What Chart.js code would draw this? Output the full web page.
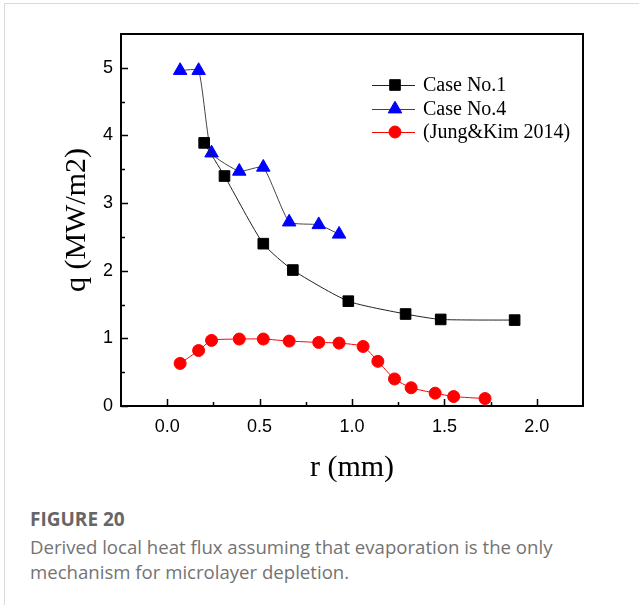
<!DOCTYPE html>
<html><head><meta charset="utf-8">
<script src="https://cdn.jsdelivr.net/npm/chart.js@4.4.0/dist/chart.umd.min.js"></script>
<style>
html,body{margin:0;padding:0;background:#fff;width:639px;height:605px;overflow:hidden;position:relative;}
#frame{position:absolute;left:4px;top:3px;width:640px;height:610px;border-left:1px solid #dadada;border-top:1px solid #dadada;}
#wrap{position:absolute;left:0;top:0;width:639px;height:490px;}
.cap{position:absolute;left:30px;font-family:"Open Sans",Lato,sans-serif;color:#737373;font-size:18.6px;line-height:24px;white-space:nowrap;}
#capTitle{font-weight:bold;color:#666;top:507px;font-size:19px;}
#cap1{top:535px;}
#cap2{top:560px;}
</style></head>
<body>
<div id="frame"></div>
<div id="wrap"><canvas id="c" width="639" height="490"></canvas></div>
<div class="cap" id="capTitle">FIGURE 20</div>
<div class="cap" id="cap1">Derived local heat flux assuming that evaporation is the only</div>
<div class="cap" id="cap2">mechanism for microlayer depletion.</div>
<script>
// ---- data ----
const seriesNames = ['Case No.1', 'Case No.4', '(Jung&Kim 2014)'];
const case1R = [0.20, 0.31, 0.52, 0.68, 0.98, 1.29, 1.48, 1.88];
const case1Q = [3.89, 3.40, 2.40, 2.01, 1.55, 1.36, 1.28, 1.27];
const case4R = [0.07, 0.17, 0.24, 0.39, 0.52, 0.66, 0.82, 0.93];
const case4Q = [4.96, 4.96, 3.74, 3.47, 3.53, 2.72, 2.68, 2.54];
const jungR = [0.07, 0.17, 0.24, 0.39, 0.52, 0.66, 0.82, 0.93, 1.06, 1.14, 1.23, 1.32, 1.45, 1.55, 1.72];
const jungQ = [0.63, 0.82, 0.97, 0.99, 0.99, 0.96, 0.94, 0.93, 0.88, 0.66, 0.40, 0.27, 0.19, 0.14, 0.11];
const xTickValues = [0, 0.5, 1.0, 1.5, 2.0];
const xTickLabels = ['0.0', '0.5', '1.0', '1.5', '2.0'];
const yTickValues = [0, 1, 2, 3, 4, 5];
const yTickLabels = ['0', '1', '2', '3', '4', '5'];
const xTitle = 'r (mm)';
const yTitle = 'q (MW/m2)';

const pts = (xs, ys) => xs.map((x, i) => ({x: x, y: ys[i]}));

const framePlugin = {
  id: 'frame',
  afterDatasetsDraw(chart) {
    const {ctx, chartArea: a, scales} = chart;
    ctx.save();
    ctx.strokeStyle = '#000';
    ctx.lineWidth = 1.5;
    const xs = scales.x, ys = scales.y;
    ctx.beginPath();
    xs.ticks.forEach(t => {
      const px = Math.round(xs.getPixelForValue(t.value)) + 0.5;
      ctx.moveTo(px, a.bottom); ctx.lineTo(px, a.bottom - 7);
      const pm = Math.round(xs.getPixelForValue(t.value + 0.25)) + 0.5;
      if (t.value + 0.25 < xs.max) { ctx.moveTo(pm, a.bottom); ctx.lineTo(pm, a.bottom - 4); }
    });
    ys.ticks.forEach(t => {
      const py = Math.round(ys.getPixelForValue(t.value)) + 0.5;
      ctx.moveTo(a.left, py); ctx.lineTo(a.left + 7, py);
      const pm = Math.round(ys.getPixelForValue(t.value + 0.5)) + 0.5;
      if (t.value + 0.5 < ys.max) { ctx.moveTo(a.left, pm); ctx.lineTo(a.left + 4, pm); }
    });
    ctx.stroke();
    ctx.lineWidth = 2;
    ctx.strokeRect(a.left, a.top, a.right - a.left, a.bottom - a.top);
    ctx.restore();
  }
};

const legendPlugin = {
  id: 'customLegend',
  afterDraw(chart) {
    const {ctx} = chart;
    const x0 = 372, x1 = 415, xm = 395, xt = 423;
    const rowsY = [85, 109, 132];
    ctx.save();
    chart.data.datasets.forEach((ds, i) => {
      const y = rowsY[i];
      ctx.strokeStyle = ds.borderColor;
      ctx.lineWidth = 1;
      ctx.beginPath(); ctx.moveTo(x0, y + 0.5); ctx.lineTo(x1, y + 0.5); ctx.stroke();
      ctx.fillStyle = ds.pointBackgroundColor;
      ctx.strokeStyle = ds.pointBorderColor;
      Chart.helpers.drawPoint(ctx, {pointStyle: ds.pointStyle, radius: ds.pointRadius, borderWidth: 1, rotation: 0}, xm, y);
      ctx.fillStyle = '#000';
      ctx.font = '20px "Liberation Serif", "Times New Roman", serif';
      ctx.textBaseline = 'middle';
      ctx.textAlign = 'left';
      ctx.fillText(ds.label, xt, y + 1);
    });
    ctx.restore();
  }
};

const tickFont = {family: '"Liberation Sans", Arial, sans-serif', size: 18};
const titleFont = {family: '"Liberation Serif", "Times New Roman", serif', size: 30};

new Chart(document.getElementById('c'), {
  type: 'line',
  data: {
    datasets: [
      {label: seriesNames[0], data: pts(case1R, case1Q), borderColor: '#222', borderWidth: 1,
       pointStyle: 'rect', pointRadius: 7.5, pointBackgroundColor: '#000', pointBorderColor: '#000', pointBorderWidth: 1, tension: 0.2},
      {label: seriesNames[1], data: pts(case4R, case4Q), borderColor: '#444', borderWidth: 1,
       pointStyle: 'triangle', pointRadius: 7.8, pointBackgroundColor: '#0000ff', pointBorderColor: '#0000ff', pointBorderWidth: 1, tension: 0.15},
      {label: seriesNames[2], data: pts(jungR, jungQ), borderColor: '#ff0000', borderWidth: 1,
       pointStyle: 'circle', pointRadius: 6, pointBackgroundColor: '#ff0000', pointBorderColor: '#ff0000', pointBorderWidth: 1, tension: 0.2}
    ]
  },
  options: {
    responsive: false,
    animation: false,
    events: [],
    layout: {padding: {left: 0, top: 34, right: 56, bottom: 0}},
    plugins: {legend: {display: false}, tooltip: {enabled: false}},
    scales: {
      x: {
        type: 'linear', min: -0.25, max: 2.25,
        afterBuildTicks: s => { s.ticks = xTickValues.map(v => ({value: v})); },
        afterFit: s => { s.height = 84; },
        grid: {display: false, drawTicks: false},
        border: {display: false},
        ticks: {callback: (v, i) => xTickLabels[i], font: tickFont, color: '#000', padding: 10, maxRotation: 0, autoSkip: false},
        title: {display: true, text: xTitle, font: titleFont, color: '#000', padding: {top: 0, bottom: 4}}
      },
      y: {
        type: 'linear', min: 0, max: 5.5,
        afterBuildTicks: s => { s.ticks = yTickValues.map(v => ({value: v})); },
        afterFit: s => { s.width = 121; },
        grid: {display: false, drawTicks: false},
        border: {display: false},
        ticks: {callback: (v, i) => yTickLabels[i], font: tickFont, color: '#000', padding: 8, autoSkip: false},
        title: {display: true, text: yTitle, font: titleFont, color: '#000', padding: {top: 59, bottom: 0}}
      }
    }
  },
  plugins: [framePlugin, legendPlugin]
});
</script>
</body></html>
